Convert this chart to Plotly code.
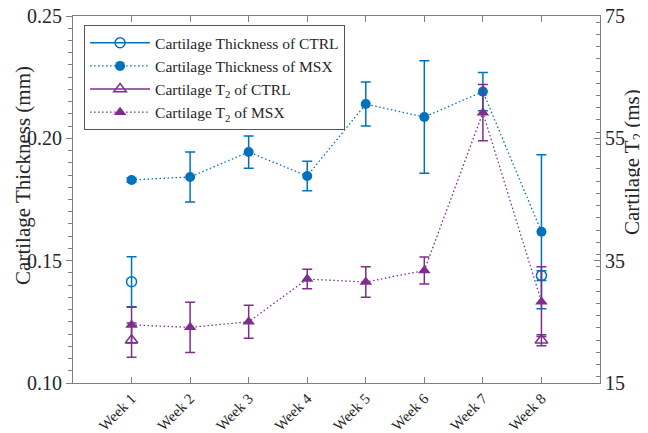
import plotly.graph_objects as go

weeks = ["Week 1", "Week 2", "Week 3", "Week 4", "Week 5", "Week 6", "Week 7", "Week 8"]
week_pos = [1, 2, 3, 4, 5, 6, 7, 8]

thick_ctrl = [0.1414, None, None, None, None, None, None, 0.1439]
thick_ctrl_err = [0.0102, None, None, None, None, None, None, 0.002]
thick_msx = [0.1830, 0.1842, 0.1944, 0.1846, 0.2140, 0.2087, 0.2191, 0.1618]
thick_msx_err = [0.0008, 0.0102, 0.0066, 0.0060, 0.0090, 0.0230, 0.0078, 0.0315]

t2_ctrl = [22.0, None, None, None, None, None, None, 22.0]
t2_ctrl_err = [2.8, None, None, None, None, None, None, 0.9]
t2_msx = [24.5, 24.1, 25.0, 32.0, 31.5, 33.4, 59.2, 28.3]
t2_msx_err = [2.9, 4.1, 2.7, 1.6, 2.5, 2.2, 4.6, 5.7]

BLUE = "#0072BD"
PURPLE = "#7E2F8E"
FONT = "Liberation Serif, Times New Roman, serif"
AXC = "#7f7f7f"
TXT = "#262626"
DOT = "1.5px,2.5px"

fig = go.Figure()

fig.add_trace(go.Scatter(
    x=week_pos, y=thick_ctrl, name="Cartilage Thickness of CTRL",
    mode="lines+markers", connectgaps=False,
    line=dict(color=BLUE, width=1.5),
    marker=dict(symbol="circle-open", size=10, color=BLUE, line=dict(width=1.5)),
    error_y=dict(type="data", array=thick_ctrl_err, color=BLUE, thickness=1.5, width=5),
))
fig.add_trace(go.Scatter(
    x=week_pos, y=thick_msx, name="Cartilage Thickness of MSX",
    mode="lines+markers",
    line=dict(color=BLUE, width=1.3, dash=DOT),
    marker=dict(symbol="circle", size=10, color=BLUE),
    error_y=dict(type="data", array=thick_msx_err, color=BLUE, thickness=1.5, width=5),
))
fig.add_trace(go.Scatter(
    x=week_pos, y=t2_ctrl, name="Cartilage T<sub>2</sub> of CTRL", yaxis="y2",
    mode="lines+markers", connectgaps=False,
    line=dict(color=PURPLE, width=1.5),
    marker=dict(symbol="triangle-up-open", size=11, color=PURPLE, line=dict(width=1.5)),
    error_y=dict(type="data", array=t2_ctrl_err, color=PURPLE, thickness=1.5, width=5),
))
fig.add_trace(go.Scatter(
    x=week_pos, y=t2_msx, name="Cartilage T<sub>2</sub> of MSX", yaxis="y2",
    mode="lines+markers",
    line=dict(color=PURPLE, width=1.3, dash=DOT),
    marker=dict(symbol="triangle-up", size=11, color=PURPLE),
    error_y=dict(type="data", array=t2_msx_err, color=PURPLE, thickness=1.5, width=5),
))

fig.update_layout(
    width=640, height=425,
    margin=dict(l=65, r=48, t=8, b=50, autoexpand=False),
    paper_bgcolor="white", plot_bgcolor="white",
    font=dict(family=FONT, color=TXT, size=14),
    showlegend=True,
    legend=dict(x=0.021, y=0.975, xanchor="left", yanchor="top",
                bgcolor="white", bordercolor="#555555", borderwidth=1,
                font=dict(family=FONT, size=15.5, color=TXT),
                itemwidth=60, tracegroupgap=0),
    xaxis=dict(
        range=[0, 9], tickvals=week_pos, ticktext=weeks, tickangle=-45,
        ticks="inside", ticklen=6, tickcolor=AXC,
        showline=True, linecolor=AXC, linewidth=1, mirror="ticks",
        showgrid=False, zeroline=False, automargin=False,
        ticklabeloverflow="allow",
        tickfont=dict(family=FONT, size=15, color=TXT),
    ),
    yaxis=dict(
        range=[0.10, 0.25], tickvals=[0.10, 0.15, 0.20, 0.25], tickformat=".2f",
        ticks="outside", ticklen=6, tickcolor=AXC,
        minor=dict(dtick=0.005, ticks="outside", ticklen=4, tickcolor=AXC),
        showline=True, linecolor=AXC, linewidth=1,
        showgrid=False, zeroline=False, automargin=False,
        ticklabeloverflow="allow",
        tickfont=dict(family=FONT, size=20, color=TXT),
    ),
    yaxis2=dict(
        range=[15, 75], tickvals=[15, 35, 55, 75], overlaying="y", side="right",
        ticks="inside", ticklen=6, tickcolor=AXC,
        minor=dict(dtick=2, ticks="inside", ticklen=4, tickcolor=AXC),
        showline=True, linecolor=AXC, linewidth=1,
        showgrid=False, zeroline=False, automargin=False,
        ticklabeloverflow="allow",
        tickfont=dict(family=FONT, size=20, color=TXT),
    ),
    annotations=[
        dict(text="Cartilage Thickness (mm)", xref="paper", yref="paper",
             x=-0.0949, y=0.567, textangle=-90, showarrow=False,
             xanchor="center", yanchor="middle",
             font=dict(family=FONT, size=21, color=TXT)),
        dict(text="Cartilage T<sub>2</sub> (ms)", xref="paper", yref="paper",
             x=1.0625, y=0.602, textangle=-90, showarrow=False,
             xanchor="center", yanchor="middle",
             font=dict(family=FONT, size=21, color=TXT)),
    ],
)

fig.write_html("out.html")
